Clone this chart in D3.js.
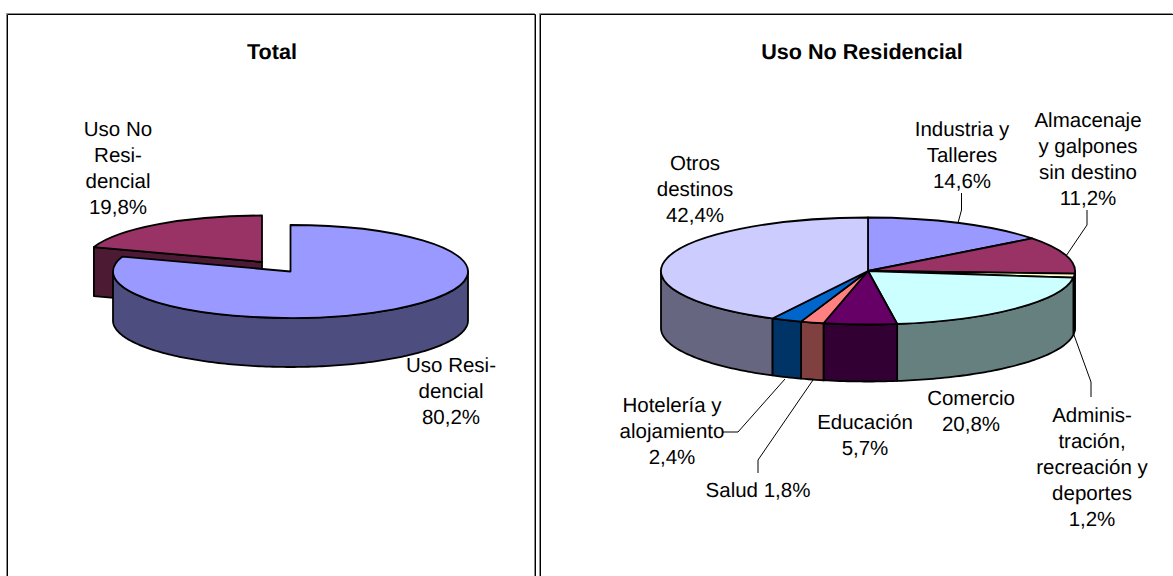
<!DOCTYPE html>
<html><head><meta charset="utf-8">
<script src="https://cdn.jsdelivr.net/npm/d3@7/dist/d3.min.js"></script>
<style>html,body{margin:0;padding:0;background:#fff}svg{display:block}text{font-family:"Liberation Sans",Arial,sans-serif;fill:#000;text-rendering:geometricPrecision}</style>
</head><body><svg id="c" width="1173" height="576"></svg>
<script>
// Left pie
const totalCategories = ["Uso Residencial", "Uso No Residencial"];
const totalValues = [80.2, 19.8];
const totalTop = ["#9999FF", "#993366"];
const totalSide = ["#4D4D80", "#4D1A33"];
// Right pie
const usoCategories = ["Industria y Talleres","Almacenaje y galpones sin destino","Administración, recreación y deportes","Comercio","Educación","Salud","Hotelería y alojamiento","Otros destinos"];
const usoValues = [14.6, 11.2, 1.2, 20.8, 5.7, 1.8, 2.4, 42.4];
const usoTop = ["#9999FF","#993366","#FFFFCC","#CCFFFF","#660066","#FF8080","#0066CC","#CCCCFF"];
const usoSide = ["#4D4D80","#4D1A33","#808066","#668080","#330033","#804040","#003366","#666680"];

const svg = d3.select("#c");
const pie = d3.pie().sort(null);

function pt(g,a,dz=0){ return [g.cx+g.rx*Math.sin(a), g.cy-g.ry*Math.cos(a)+dz]; }
function drawTop(g,d,fill,parent){
  const arc = d3.arc().innerRadius(0).outerRadius(1).startAngle(d.startAngle).endAngle(d.endAngle);
  parent.append("path").attr("d",arc())
    .attr("transform",`translate(${g.cx},${g.cy}) scale(${g.rx},${g.ry})`)
    .attr("fill",fill).attr("stroke","#000").attr("stroke-width",g.sw)
    .attr("stroke-linejoin","round").attr("vector-effect","non-scaling-stroke");
}
const line = d3.line();
function drawWall(g,a0,a1,fill,parent){
  const s=Math.max(a0,Math.PI/2), e=Math.min(a1,Math.PI*1.5);
  if(e<=s) return;
  const n=Math.max(2,Math.ceil((e-s)/0.02));
  const ang=d3.range(n+1).map(i=>s+(e-s)*i/n);
  const pts=[...ang.map(a=>pt(g,a)),...ang.slice().reverse().map(a=>pt(g,a,g.depth))];
  parent.append("path").attr("d",line(pts)+"Z").attr("fill",fill)
    .attr("stroke","#000").attr("stroke-width",g.sw).attr("stroke-linejoin","round");
}
function leader(pts){
  svg.append("path").attr("d",line(pts)).attr("fill","none").attr("stroke","#000").attr("stroke-width",1);
}
function label(x,y,lines,lh=26){
  const t=svg.append("text").attr("font-size",20.5).attr("text-anchor","middle");
  lines.forEach((l,i)=>t.append("tspan").attr("x",x).attr("y",y+i*lh).text(l));
}

// frames: [left edge, right edge, whether a right edge is visible]
const frames=[[7,535,true],[540,1173,false]];
frames.forEach(([a,b,closed])=>{
  const d=off=>`M${a+off+.5},577V${14+off+.5}H${b+off+.5}`+(closed?"V577":"");
  svg.append("path").attr("d",d(-1)).attr("fill","none").attr("stroke","#8c8c8c").attr("stroke-width",1);
  svg.append("path").attr("d",d(0)).attr("fill","none").attr("stroke","#000").attr("stroke-width",1);
});

// left chart
const L=pie(totalValues);
const gBlue={cx:290.5,cy:271.5,rx:177.5,ry:46.5,depth:49,sw:1.8};
const gRed ={cx:262,cy:262,rx:177.5,ry:46.5,depth:49,sw:1.8};
const left=svg.append("g");
{
  const a=L[1].startAngle;
  const tip=pt(gRed,a), c=[gRed.cx,gRed.cy];
  left.append("path").attr("d",line([tip,c,[c[0],c[1]+gRed.depth],[tip[0],tip[1]+gRed.depth]])+"Z")
    .attr("fill",totalSide[1]).attr("stroke","#000").attr("stroke-width",1.8).attr("stroke-linejoin","round");
  drawTop(gRed,L[1],totalTop[1],left);
  drawWall(gBlue,L[0].startAngle,L[0].endAngle,totalSide[0],left);
  drawTop(gBlue,L[0],totalTop[0],left);
}

// right chart
const R=pie(usoValues);
const gR={cx:868,cy:271,rx:207,ry:53.5,depth:57,sw:1.8};
const right=svg.append("g");
R.forEach((d,i)=>drawWall(gR,d.startAngle,d.endAngle,usoSide[i],right));
R.forEach((d,i)=>drawTop(gR,d,usoTop[i],right));

// leaders
leader([[961.5,193],[961.5,210],[958,223]]);
leader([[1087,210],[1087,225],[1066,256]]);
leader([[1074,335],[1091,382],[1091,397]]);
leader([[723,432],[738,432],[785,379]]);
leader([[813,380],[758,460],[758,473]]);

// titles
[[272,"Total"],[862,"Uso No Residencial"]].forEach(([x,t])=>
  svg.append("text").attr("x",x).attr("y",59).attr("text-anchor","middle").attr("font-size",21.6).attr("font-weight","bold").text(t));

// labels
label(118,136,["Uso No","Resi-","dencial","19,8%"]);
label(451,372,["Uso Resi-","dencial","80,2%"]);
label(962,136,["Industria y","Talleres","14,6%"]);
label(1088,127,["Almacenaje","y galpones","sin destino","11,2%"]);
label(695,170,["Otros","destinos","42,4%"]);
label(971,405,["Comercio","20,8%"]);
label(865,429,["Educación","5,7%"]);
label(672,412,["Hotelería y","alojamiento","2,4%"]);
label(758,497,["Salud 1,8%"]);
label(1092,422,["Adminis-","tración,","recreación y","deportes","1,2%"]);
</script></body></html>
